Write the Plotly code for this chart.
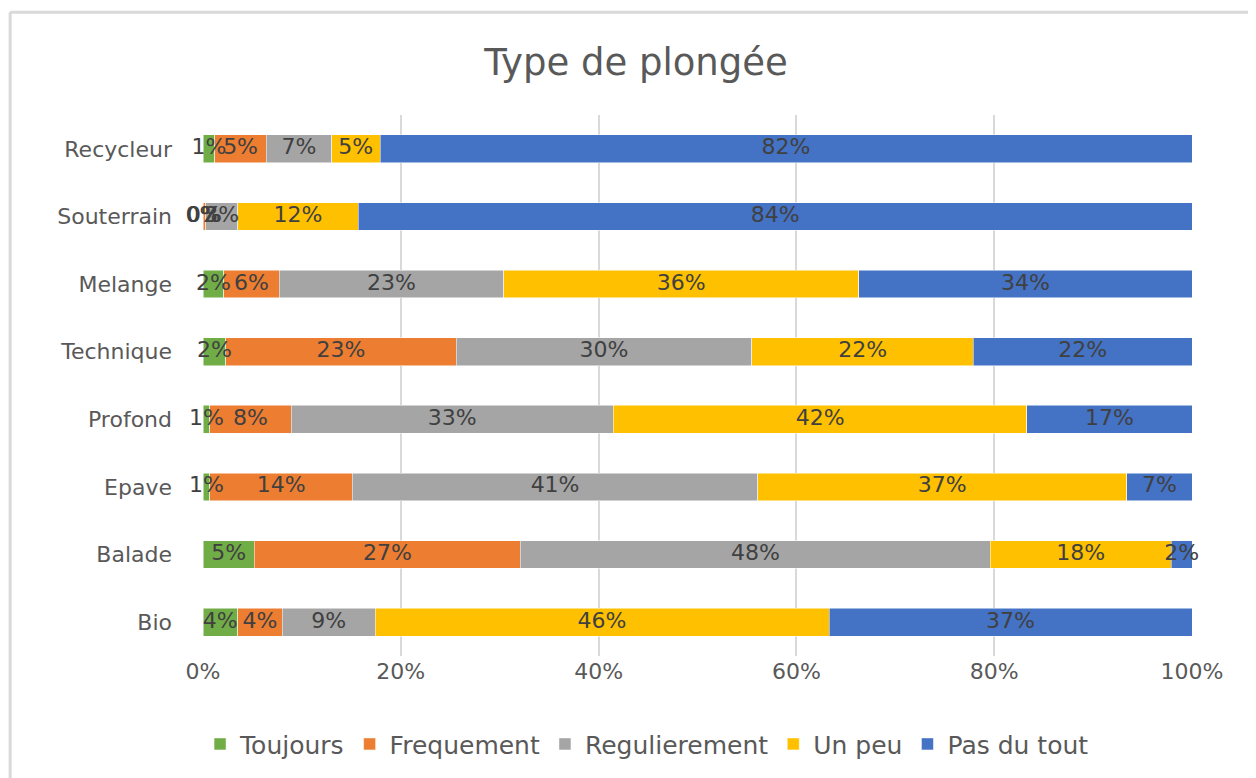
import plotly.graph_objects as go

categories = ["Bio", "Balade", "Epave", "Profond", "Technique", "Melange", "Souterrain", "Recycleur"]
series_names = ["Toujours", "Frequement", "Regulierement", "Un peu", "Pas du tout"]
toujours = [3.5, 5.2, 0.7, 0.7, 2.3, 2.1, 0.0, 1.2]
frequement = [4.5, 26.9, 14.4, 8.2, 23.3, 5.6, 0.3, 5.2]
regulierement = [9.4, 47.5, 41.0, 32.6, 29.9, 22.7, 3.2, 6.6]
un_peu = [45.9, 18.3, 37.3, 41.8, 22.4, 35.9, 12.2, 4.9]
pas_du_tout = [36.7, 2.1, 6.6, 16.7, 22.1, 33.7, 84.3, 82.1]
tick_vals = [0, 20, 40, 60, 80, 100]
tick_text = ["0%", "20%", "40%", "60%", "80%", "100%"]

colors = ["#70AD47", "#ED7D31", "#A5A5A5", "#FFC000", "#4472C4"]
all_series = [toujours, frequement, regulierement, un_peu, pas_du_tout]

label_font = "DejaVu Sans, Open Sans, sans-serif"

fig = go.Figure()
for name, vals, col in zip(series_names, all_series, colors):
    fig.add_trace(go.Bar(
        y=categories, x=vals, name=name, orientation="h",
        marker=dict(color=col, line=dict(color="white", width=0.5)),
        hoverinfo="name+x",
    ))

# data labels drawn on top of all bars (centred in each segment)
base = [0.0] * len(categories)
for name, vals in zip(series_names, all_series):
    centers = [b + v / 2 for b, v in zip(base, vals)]
    fig.add_trace(go.Scatter(
        y=categories, x=centers, mode="text",
        text=[f"{round(v):.0f}%" for v in vals],
        textposition="middle center",
        textfont=dict(family=label_font, size=22, color="#404040"),
        showlegend=False, hoverinfo="skip", cliponaxis=False,
    ))
    base = [b + v for b, v in zip(base, vals)]

fig.update_layout(
    barmode="stack", bargap=0.59,
    width=1256, height=778,
    margin=dict(l=195, r=72, t=107, b=130),
    paper_bgcolor="white", plot_bgcolor="white",
    title=dict(text="Type de plongée", x=0.5, xref="container", y=0.93, yanchor="middle",
               font=dict(family=label_font, size=37, color="#595959")),
    font=dict(family=label_font, color="#595959"),
    xaxis=dict(range=[0, 100], tickvals=tick_vals, ticktext=tick_text,
               showgrid=True, gridcolor="#D9D9D9", gridwidth=2, zeroline=False,
               showline=False, ticks="", tickfont=dict(size=22, color="#595959"),
               fixedrange=True),
    yaxis=dict(categoryorder="array", categoryarray=categories, showgrid=False,
               ticks="", ticklabelstandoff=30, tickfont=dict(size=22, color="#595959"),
               fixedrange=True),
    legend=dict(orientation="h", x=0.449, xanchor="center", y=-0.163, yanchor="middle",
                font=dict(family=label_font, size=25, color="#595959"),
                traceorder="normal", itemwidth=30),
    shapes=[
        dict(type="line", xref="paper", yref="paper", x0=-0.195, x1=-0.195, y0=-0.3, y1=1.19,
             line=dict(color="#D9D9D9", width=3)),
        dict(type="line", xref="paper", yref="paper", x0=-0.195, x1=1.1, y0=1.19, y1=1.19,
             line=dict(color="#D9D9D9", width=3)),
    ],
)

fig.write_html("out.html")
